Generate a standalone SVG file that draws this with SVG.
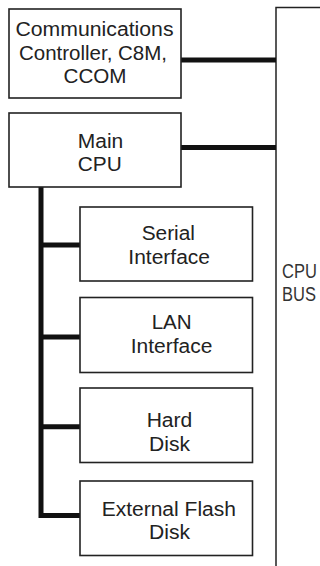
<svg xmlns="http://www.w3.org/2000/svg" width="320" height="566" viewBox="0 0 320 566">
<style>
.box{fill:#fff;stroke:#222;stroke-width:1.6}
.t{font-family:"Liberation Sans",Arial,sans-serif;font-size:19.5px;fill:#222;text-anchor:middle}
.bus{font-family:"Liberation Sans",Arial,sans-serif;font-size:16.5px;fill:#333}
.c{fill:none;stroke:#111;stroke-width:5;stroke-linejoin:miter}
</style>
<rect width="320" height="566" fill="#fff"/>
<g id="cpu-bus">
<path d="M276 566 V7.5 H320" fill="none" stroke="#222" stroke-width="1.5"/>
<text class="bus" transform="translate(282,278.3) scale(1,1.2)">CPU</text>
<text class="bus" transform="translate(282,300.7) scale(1,1.2)">BUS</text>
</g>
<g id="connectors">
<path class="c" d="M181 60 H276"/>
<path class="c" d="M181 147.5 H276"/>
<path class="c" d="M41 187 V515.5 H80"/>
<path class="c" d="M41 245 H80"/>
<path class="c" d="M41 337 H80"/>
<path class="c" d="M41 426.7 H80"/>
</g>
<g id="comm-controller">
<rect class="box" x="9" y="9" width="172" height="89"/>
<text class="t" x="94.5" y="36" textLength="158" lengthAdjust="spacingAndGlyphs">Communications</text>
<text class="t" x="93" y="59.5" textLength="148" lengthAdjust="spacingAndGlyphs">Controller, C8M,</text>
<text class="t" x="95" y="83" textLength="63" lengthAdjust="spacingAndGlyphs">CCOM</text>
</g>
<g id="main-cpu">
<rect class="box" x="9" y="113" width="172" height="74"/>
<text class="t" x="100.5" y="147.5" textLength="45.5" lengthAdjust="spacingAndGlyphs">Main</text>
<text class="t" x="99.7" y="171" textLength="44" lengthAdjust="spacingAndGlyphs">CPU</text>
</g>
<g id="serial-interface">
<rect class="box" x="80" y="207" width="172.5" height="74"/>
<text class="t" x="168.3" y="240" textLength="53.3" lengthAdjust="spacingAndGlyphs">Serial</text>
<text class="t" x="169.2" y="264" textLength="81.7" lengthAdjust="spacingAndGlyphs">Interface</text>
</g>
<g id="lan-interface">
<rect class="box" x="80" y="297.5" width="172.5" height="75"/>
<text class="t" x="171.7" y="329.3" textLength="40" lengthAdjust="spacingAndGlyphs">LAN</text>
<text class="t" x="171.5" y="352.7" textLength="81.7" lengthAdjust="spacingAndGlyphs">Interface</text>
</g>
<g id="hard-disk">
<rect class="box" x="80" y="388" width="172.5" height="74.5"/>
<text class="t" x="169.5" y="427.3" textLength="45.7" lengthAdjust="spacingAndGlyphs">Hard</text>
<text class="t" x="169.5" y="450.7" textLength="41" lengthAdjust="spacingAndGlyphs">Disk</text>
</g>
<g id="external-flash-disk">
<rect class="box" x="80" y="481" width="172.5" height="74.5"/>
<text class="t" x="168.8" y="516" textLength="134.3" lengthAdjust="spacingAndGlyphs">External Flash</text>
<text class="t" x="169.5" y="539.3" textLength="41" lengthAdjust="spacingAndGlyphs">Disk</text>
</g>
</svg>
